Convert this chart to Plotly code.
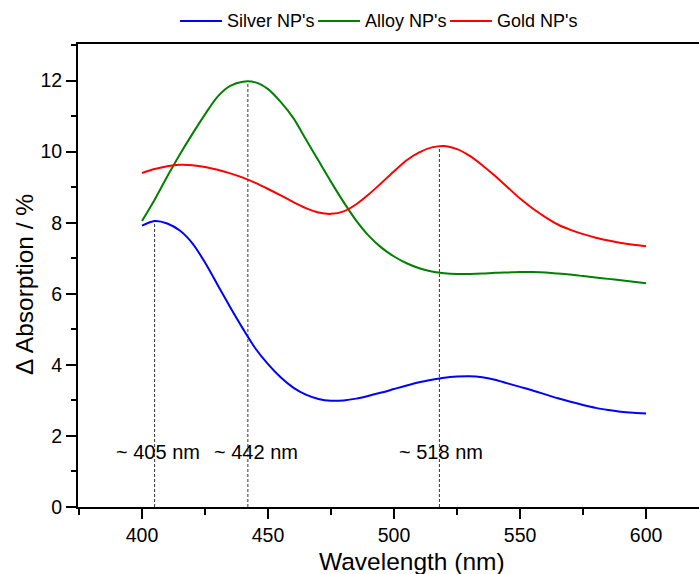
import plotly.graph_objects as go

wavelength = [400, 405, 410, 415, 420, 425, 430, 435, 440, 445, 450, 455, 460, 465, 470,
              475, 480, 485, 490, 495, 500, 505, 510, 515, 520, 525, 530, 535, 540, 545,
              550, 555, 560, 565, 570, 575, 580, 585, 590, 595, 600]

silver = [7.92, 8.05, 7.98, 7.78, 7.42, 6.88, 6.25, 5.62, 5.02, 4.46, 4.02, 3.65, 3.36, 3.16, 3.04,
          2.99, 3.00, 3.05, 3.13, 3.22, 3.32, 3.42, 3.51, 3.58, 3.64, 3.67, 3.68, 3.65, 3.58, 3.48,
          3.38, 3.28, 3.17, 3.06, 2.96, 2.87, 2.79, 2.73, 2.68, 2.65, 2.63]

alloy = [8.05, 8.65, 9.30, 9.92, 10.50, 11.05, 11.55, 11.85, 11.97, 11.95, 11.76, 11.40, 10.95, 10.35, 9.75,
         9.15, 8.58, 8.06, 7.63, 7.30, 7.05, 6.86, 6.72, 6.63, 6.58, 6.56, 6.56, 6.57, 6.59, 6.60,
         6.61, 6.61, 6.60, 6.57, 6.54, 6.50, 6.46, 6.42, 6.38, 6.34, 6.30]

gold = [9.40, 9.51, 9.59, 9.63, 9.62, 9.57, 9.49, 9.39, 9.27, 9.12, 8.95, 8.77, 8.58, 8.41, 8.29,
        8.25, 8.32, 8.52, 8.80, 9.12, 9.45, 9.76, 9.98, 10.12, 10.16, 10.07, 9.88, 9.62, 9.32, 9.00,
        8.68, 8.40, 8.16, 7.95, 7.80, 7.68, 7.58, 7.50, 7.43, 7.38, 7.34]

series_names = ["Silver NP's", "Alloy NP's", "Gold NP's"]
series_colors = ["#0000FF", "#008000", "#FF0000"]

peak_nm = [405, 442, 518]
peak_vals = [8.05, 11.98, 10.16]
peak_labels = ["~ 405 nm", "~ 442 nm", "~ 518 nm"]
label_nm = [406.2, 445.2, 518.6]
label_y = 1.56

x_ticks = [400, 450, 500, 550, 600]
y_ticks = [0, 2, 4, 6, 8, 10, 12]

FONT = "Liberation Sans, Arial, sans-serif"

W, H = 699, 574
ML, MR, MT, MB = 78, 0, 44, 67
PW, PH = W - ML - MR, H - MT - MB


def px_x(p):
    return (p - ML) / PW


def px_y(p):
    return (H - MB - p) / PH


fig = go.Figure()

# dashed peak markers
for nm, v in zip(peak_nm, peak_vals):
    fig.add_trace(go.Scatter(x=[nm, nm], y=[0, v], mode="lines",
                             line=dict(color="#333333", width=1, dash="3px,2px"),
                             showlegend=False, hoverinfo="skip"))

for name, col, ys in zip(series_names, series_colors, [silver, alloy, gold]):
    fig.add_trace(go.Scatter(x=wavelength, y=ys, mode="lines", name=name, showlegend=False,
                             line=dict(color=col, width=2, shape="spline", smoothing=0.8)))

for txt, nm in zip(peak_labels, label_nm):
    fig.add_annotation(x=nm, y=label_y, text=txt, showarrow=False,
                       font=dict(family=FONT, size=20, color="black"),
                       xanchor="center", yanchor="middle")

# legend drawn at the top (line sample + label)
legend_line_px = [180, 318, 450]
LEG_Y = 21
for name, col, lx in zip(series_names, series_colors, legend_line_px):
    fig.add_shape(type="line", xref="paper", yref="paper",
                  x0=px_x(lx), x1=px_x(lx + 42), y0=px_y(LEG_Y), y1=px_y(LEG_Y),
                  line=dict(color=col, width=2))
    fig.add_annotation(xref="paper", yref="paper", x=px_x(lx + 45), y=px_y(LEG_Y), text=name,
                       showarrow=False, xanchor="left", yanchor="middle",
                       font=dict(family=FONT, size=18, color="black"))

fig.add_annotation(xref="paper", yref="paper", x=px_x(412), y=px_y(561), text="Wavelength (nm)",
                   showarrow=False, font=dict(family=FONT, size=24.5, color="black"),
                   xanchor="center", yanchor="middle")
fig.add_annotation(xref="paper", yref="paper", x=px_x(24), y=px_y(285), text="Δ Absorption / %",
                   showarrow=False, textangle=-90, font=dict(family=FONT, size=24.5, color="black"),
                   xanchor="center", yanchor="middle")

fig.update_layout(
    width=W, height=H,
    margin=dict(l=ML, r=MR, t=MT, b=MB),
    paper_bgcolor="white", plot_bgcolor="white",
    font=dict(family=FONT, color="black"),
    showlegend=False,
    xaxis=dict(range=[374.6, 621.0], tickvals=x_ticks, ticks="outside", ticklen=10, tickwidth=2,
               tickcolor="black", showline=True, linecolor="black", linewidth=2, mirror=True,
               showgrid=False, zeroline=False, tickfont=dict(family=FONT, size=19.5, color="black"),
               minor=dict(dtick=25, tick0=375, ticks="outside", ticklen=6, tickwidth=2, tickcolor="black",
                          showgrid=False)),
    yaxis=dict(range=[0, 13.03], tickvals=y_ticks, ticks="outside", ticklen=10, tickwidth=2,
               tickcolor="black", showline=True, linecolor="black", linewidth=2, mirror=False,
               showgrid=False, zeroline=False, tickfont=dict(family=FONT, size=19.5, color="black"),
               minor=dict(dtick=1, tick0=0, ticks="outside", ticklen=5, tickwidth=2, tickcolor="black",
                          showgrid=False)),
)

fig.write_html("out.html", config={"displayModeBar": False},
               post_script="document.body.style.margin='0';document.body.style.overflow='hidden';")
